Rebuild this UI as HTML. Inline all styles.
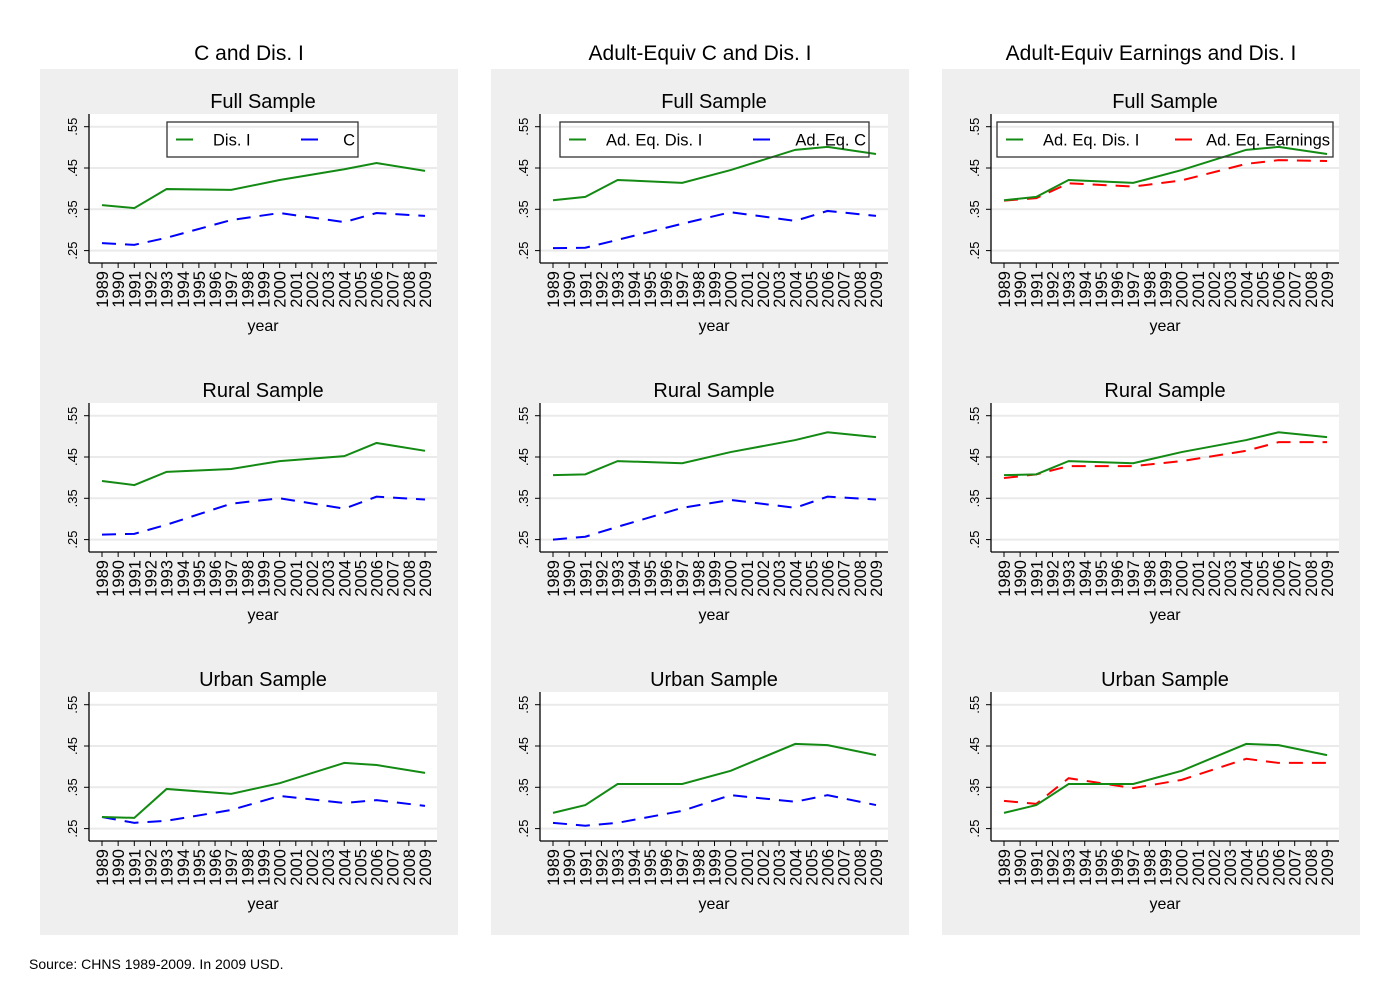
<!DOCTYPE html>
<html><head><meta charset="utf-8"><style>
body{margin:0;background:#fff;width:1400px;height:1000px;overflow:hidden;font-family:"Liberation Sans",Arial,sans-serif}
svg text{font-family:"Liberation Sans",Arial,sans-serif}
</style></head><body>
<svg id="chart" width="1400" height="1000" xmlns="http://www.w3.org/2000/svg"></svg>
<script>
const years = [1989,1991,1993,1997,2000,2004,2006,2009];
const tickYears = [1989,1990,1991,1992,1993,1994,1995,1996,1997,1998,1999,2000,2001,2002,2003,2004,2005,2006,2007,2008,2009];
const yTicks = [0.25,0.35,0.45,0.55];
const yTickLabels = [".25",".35",".45",".55"];
const columnTitles = ["C and Dis. I","Adult-Equiv C and Dis. I","Adult-Equiv Earnings and Dis. I"];
const rowTitles = ["Full Sample","Rural Sample","Urban Sample"];
const legendA = ["Dis. I","Ad. Eq. Dis. I","Ad. Eq. Dis. I"];
const legendB = ["C","Ad. Eq. C","Ad. Eq. Earnings"];
// col1: Dis. I / C
const disFull = [0.360,0.353,0.399,0.397,0.421,0.447,0.462,0.443];
const cFull = [0.268,0.264,0.281,0.324,0.341,0.319,0.341,0.334];
const disRural = [0.392,0.382,0.414,0.421,0.440,0.452,0.484,0.465];
const cRural = [0.262,0.264,0.286,0.337,0.350,0.325,0.354,0.347];
const disUrban = [0.278,0.276,0.346,0.334,0.360,0.409,0.404,0.385];
const cUrban = [0.278,0.264,0.269,0.295,0.329,0.312,0.319,0.305];
// col2/3: Adult-equiv Dis. I, C, Earnings
const aeDisFull = [0.372,0.380,0.421,0.414,0.445,0.494,0.501,0.484];
const aeCFull = [0.256,0.257,0.276,0.315,0.343,0.322,0.346,0.334];
const aeEarnFull = [0.371,0.377,0.413,0.405,0.420,0.460,0.469,0.467];
const aeDisRural = [0.406,0.408,0.440,0.435,0.462,0.491,0.510,0.498];
const aeCRural = [0.250,0.257,0.281,0.327,0.346,0.327,0.354,0.347];
const aeEarnRural = [0.399,0.408,0.428,0.428,0.440,0.465,0.486,0.486];
const aeDisUrban = [0.288,0.307,0.358,0.358,0.390,0.455,0.452,0.428];
const aeCUrban = [0.264,0.257,0.264,0.293,0.331,0.315,0.331,0.307];
const aeEarnUrban = [0.317,0.310,0.372,0.348,0.368,0.419,0.409,0.409];

const seriesA = [[disFull,disRural,disUrban],[aeDisFull,aeDisRural,aeDisUrban],[aeDisFull,aeDisRural,aeDisUrban]];
const seriesB = [[cFull,cRural,cUrban],[aeCFull,aeCRural,aeCUrban],[aeEarnFull,aeEarnRural,aeEarnUrban]];
const colorB = ["#0000ff","#0000ff","#ff0000"];
const dashB = ["14,9","14,9","14,9"];

const NS="http://www.w3.org/2000/svg";
const svg=document.getElementById('chart');
function mk(tag,attrs,parent){const e=document.createElementNS(NS,tag);for(const k in attrs)e.setAttribute(k,attrs[k]);(parent||svg).appendChild(e);return e;}
function tx(str,attrs,parent){const e=mk('text',attrs,parent);e.textContent=str;return e;}

for(let c=0;c<3;c++){
  const ox=40+c*451;
  const g=mk('g',{});
  
  
  const bg=mk('rect',{x:ox,y:69,width:418,height:866,fill:'#efefef'},g);
  
  
  const ct=tx(columnTitles[c],{x:ox+209,y:60,'font-size':21,'text-anchor':'middle',fill:'#000'},g);
  
  
  for(let r=0;r<3;r++){
    const oy=r*289;
    const L=ox+49,R=ox+397,T=114+oy,B=263+oy;
    const xS=y=>L+13+(y-1989)*(R-L-25)/20;
    const yS=v=>168+oy-(v-0.45)*413;
    const pg=mk('g',{},g);
    
    
    const st=tx(rowTitles[r],{x:(L+R)/2,y:108+oy,'font-size':20,'text-anchor':'middle'},pg);
    
    
    mk('rect',{x:L,y:T,width:R-L,height:B-T,fill:'#fff'},pg);
    yTicks.forEach((v,i)=>{
      const yy=yS(v);
      const gl=mk('line',{x1:L,x2:R,y1:yy,y2:yy,stroke:'#eaeaea','stroke-width':2},pg);
      
      
      mk('line',{x1:L-5,x2:L,y1:yy,y2:yy,stroke:'#000','stroke-width':1},pg);
      const tl=tx(yTickLabels[i],{x:0,y:0,'font-size':13,'text-anchor':'middle',transform:`translate(${L-12},${yy}) rotate(-90)`},pg);
      
      
    });
    mk('line',{x1:L,x2:L,y1:T,y2:B,stroke:'#000','stroke-width':1.3},pg);
    mk('line',{x1:L,x2:R,y1:B,y2:B,stroke:'#000','stroke-width':1.3},pg);
    tickYears.forEach(yv=>{
      const xx=xS(yv);
      mk('line',{x1:xx,x2:xx,y1:B,y2:B+5,stroke:'#000','stroke-width':1},pg);
      const xl=tx(String(yv),{x:0,y:0,'font-size':16.5,'text-anchor':'end',transform:`translate(${xx+6},${B+8}) rotate(-90)`},pg);
      
      
    });
    const xt=tx('year',{x:(L+R)/2,y:B+68,'font-size':16,'text-anchor':'middle'},pg);
    
    
    const a=seriesA[c][r], b=seriesB[c][r];
    const pa=a.map((v,i)=>xS(years[i])+','+yS(v)).join(' ');
    const pb=b.map((v,i)=>xS(years[i])+','+yS(v)).join(' ');
    const lb=mk('polyline',{points:pb,fill:'none',stroke:colorB[c],'stroke-width':2,'stroke-dasharray':dashB[c]},pg);
    
    
    const la=mk('polyline',{points:pa,fill:'none',stroke:'#138a13','stroke-width':2},pg);
    
    
    if(r===0){
      const boxes=[[167,358],[560,869],[997,1333]];
      const [bx1,bx2]=boxes[c];
      const lg=mk('g',{},pg);
      
      
      mk('rect',{x:bx1,y:122,width:bx2-bx1,height:35,fill:'none',stroke:'#333','stroke-width':1.3},lg);
      const mid=139.5;
      mk('line',{x1:bx1+9,x2:bx1+26,y1:mid,y2:mid,stroke:'#138a13','stroke-width':2},lg);
      const e1=tx(legendA[c],{x:bx1+46,y:mid+6,'font-size':16.5},lg);
      
      
      const ex=[bx1+134,bx1+193,bx1+178][c];
      mk('line',{x1:ex,x2:ex+17,y1:mid,y2:mid,stroke:colorB[c],'stroke-width':2},lg);
      const e2=tx(legendB[c],{x:bx2-3,y:mid+6,'font-size':16.5,'text-anchor':'end'},lg);
      
      
    }
  }
}
const src=tx('Source: CHNS 1989-2009. In 2009 USD.',{x:29,y:969,'font-size':14});


</script>
</body></html>
